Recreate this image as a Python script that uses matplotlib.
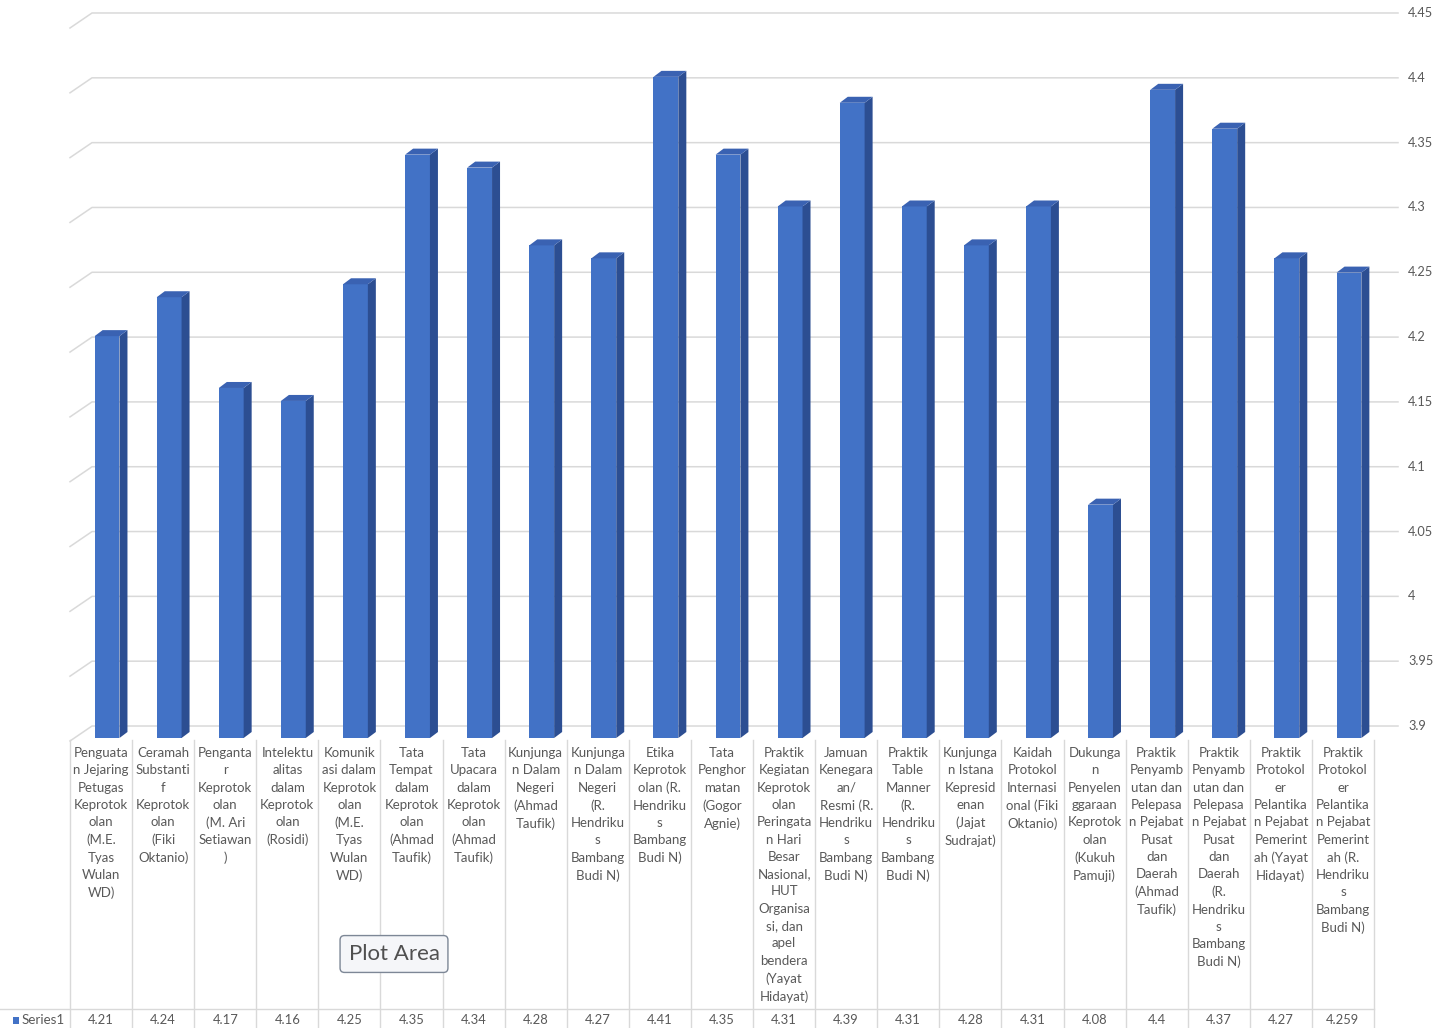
import matplotlib
matplotlib.use("Agg")
import matplotlib.pyplot as plt
import matplotlib.transforms as mtransforms
from matplotlib.patches import Polygon, Rectangle
from matplotlib.lines import Line2D

plt.rcParams['font.family'] = ['Lato', 'DejaVu Sans']

# ---- data ----
categories = [
    "Penguata\nn Jejaring\nPetugas\nKeprotok\nolan\n(M.E.\nTyas\nWulan\nWD)",
    "Ceramah\nSubstanti\nf\nKeprotok\nolan\n(Fiki\nOktanio)",
    "Penganta\nr\nKeprotok\nolan\n(M. Ari\nSetiawan\n)",
    "Intelektu\nalitas\ndalam\nKeprotok\nolan\n(Rosidi)",
    "Komunik\nasi dalam\nKeprotok\nolan\n(M.E.\nTyas\nWulan\nWD)",
    "Tata\nTempat\ndalam\nKeprotok\nolan\n(Ahmad\nTaufik)",
    "Tata\nUpacara\ndalam\nKeprotok\nolan\n(Ahmad\nTaufik)",
    "Kunjunga\nn Dalam\nNegeri\n(Ahmad\nTaufik)",
    "Kunjunga\nn Dalam\nNegeri\n(R.\nHendriku\ns\nBambang\nBudi N)",
    "Etika\nKeprotok\nolan (R.\nHendriku\ns\nBambang\nBudi N)",
    "Tata\nPenghor\nmatan\n(Gogor\nAgnie)",
    "Praktik\nKegiatan\nKeprotok\nolan\nPeringata\nn Hari\nBesar\nNasional,\nHUT\nOrganisa\nsi, dan\napel\nbendera\n(Yayat\nHidayat)",
    "Jamuan\nKenegara\nan/\nResmi (R.\nHendriku\ns\nBambang\nBudi N)",
    "Praktik\nTable\nManner\n(R.\nHendriku\ns\nBambang\nBudi N)",
    "Kunjunga\nn Istana\nKepresid\nenan\n(Jajat\nSudrajat)",
    "Kaidah\nProtokol\nInternasi\nonal (Fiki\nOktanio)",
    "Dukunga\nn\nPenyelen\nggaraan\nKeprotok\nolan\n(Kukuh\nPamuji)",
    "Praktik\nPenyamb\nutan dan\nPelepasa\nn Pejabat\nPusat\ndan\nDaerah\n(Ahmad\nTaufik)",
    "Praktik\nPenyamb\nutan dan\nPelepasa\nn Pejabat\nPusat\ndan\nDaerah\n(R.\nHendriku\ns\nBambang\nBudi N)",
    "Praktik\nProtokol\ner\nPelantika\nn Pejabat\nPemerint\nah (Yayat\nHidayat)",
    "Praktik\nProtokol\ner\nPelantika\nn Pejabat\nPemerint\nah (R.\nHendriku\ns\nBambang\nBudi N)",
]
values = [4.21, 4.24, 4.17, 4.16, 4.25, 4.35, 4.34, 4.28, 4.27, 4.41, 4.35,
          4.31, 4.39, 4.31, 4.28, 4.31, 4.08, 4.4, 4.37, 4.27, 4.259]
series_name = "Series1"
y_ticks = [3.9, 3.95, 4.0, 4.05, 4.1, 4.15, 4.2, 4.25, 4.3, 4.35, 4.4, 4.45]
y_min = 3.9

# ---- styling ----
W, H = 1452, 1028
FRONT = '#4272C6'
SIDE = '#2C4E92'
TOP = '#3A62B2'
GRID = '#D9D9D9'
TXT = '#595959'

fig = plt.figure(figsize=(W / 100, H / 100), dpi=100)
fig.patch.set_facecolor('white')

# plot region: categories span 70..1374 px, wall spans 740..5 px (from top)
ax = fig.add_axes([70 / W, (H - 740) / H, 1304 / W, 735 / H])
n = len(values)
ax.set_xlim(-0.5, n - 0.5)
px_per_unit = 1296.4
ax.set_ylim(y_min - 14 / px_per_unit, y_ticks[-1] + 8 / px_per_unit)
ax.axis('off')


def px2dx(px):
    return px / (ax.transData.transform((1, 0))[0] - ax.transData.transform((0, 0))[0])


def px2dy(px):
    return px / (ax.transData.transform((0, 1))[1] - ax.transData.transform((0, 0))[1])


# wall depth offset and bar depth
wall_dx, wall_dy = px2dx(22), px2dy(15)
bar_dx, bar_dy = px2dx(8), px2dy(6)
front_dx, front_dy = px2dx(6), px2dy(-12)
bar_w = 0.40

# gridlines on back wall, with short diagonal on side wall
x_left = -0.5
x_right = n - 0.5 + px2dx(24)
for t in y_ticks:
    ax.add_line(Line2D([x_left, x_left + wall_dx, x_right], [t - wall_dy, t, t],
                       color=GRID, lw=1.1, clip_on=False, zorder=1))
    ax.text(n - 0.5 + px2dx(34), t, f"{t:g}", ha='left', va='center',
            fontsize=9.2, color=TXT, clip_on=False)

# 3D-look columns
for i, v in enumerate(values):
    xl = i - bar_w / 2 + front_dx
    xr = xl + bar_w
    b = y_min + front_dy
    t = v + front_dy
    ax.bar(i + front_dx, v - y_min, bottom=b, width=bar_w, color=FRONT,
           edgecolor='none', zorder=3, clip_on=False)
    ax.add_patch(Polygon([(xr, b), (xr, t), (xr + bar_dx, t + bar_dy), (xr + bar_dx, b + bar_dy)],
                         closed=True, facecolor=SIDE, edgecolor='none', zorder=3, clip_on=False))
    ax.add_patch(Polygon([(xl, t), (xr, t), (xr + bar_dx, t + bar_dy), (xl + bar_dx, t + bar_dy)],
                         closed=True, facecolor=TOP, edgecolor='none', zorder=4, clip_on=False))

# ---- data table below the plot ----
bt = mtransforms.blended_transform_factory(ax.transData, fig.transFigure)


def fy(px):
    return 1 - px / H


for k in range(n + 1):
    fig.add_artist(Line2D([k - 0.5, k - 0.5], [fy(740), fy(1028)], transform=bt,
                          color=GRID, lw=1.0))
fig.add_artist(Line2D([0, ax.get_position().x1], [fy(1009), fy(1009)],
                      transform=fig.transFigure, color=GRID, lw=1.0))

for i, (c, v) in enumerate(zip(categories, values)):
    fig.text(i, fy(747), c, transform=bt, ha='center', va='top', fontsize=9.5,
             color=TXT, linespacing=1.53, multialignment='center')
    fig.text(i, fy(1020), f"{v:g}", transform=bt, ha='center', va='center',
             fontsize=9.4, color=TXT)

# row header with legend key
fig.add_artist(Rectangle((13 / W, fy(1024)), 6 / W, 7 / H, transform=fig.transFigure,
                         facecolor=FRONT, edgecolor='none'))
fig.text(22 / W, fy(1020), series_name, ha='left', va='center', fontsize=9.6, color=TXT)

# hover label over the plot area
fig.text(394 / W, fy(954), "Plot Area", ha='center', va='center', fontsize=16,
         color='#505050',
         bbox=dict(boxstyle='round,pad=0.38,rounding_size=0.2', facecolor='#F5F6F9',
                   edgecolor='#7D8796', lw=1.0))

fig.savefig('out.png', dpi=100, facecolor='white')
